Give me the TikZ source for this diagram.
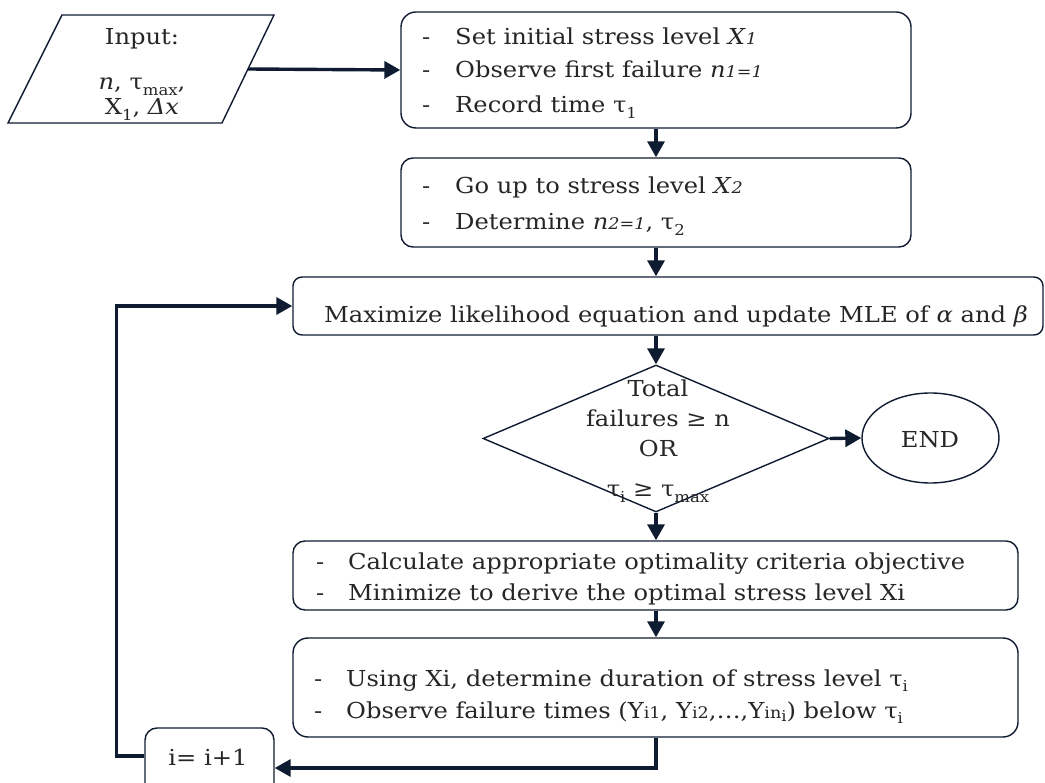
\documentclass[tikz,border=0pt]{standalone}
\usepackage{fontspec}
\setmainfont[FakeStretch=1.1]{DejaVu Serif}
\usetikzlibrary{arrows.meta,shapes.geometric}
\definecolor{ink}{HTML}{0F1B30}
\newcommand{\lsub}[1]{\raisebox{-0.45ex}{\fontsize{15}{15}\selectfont #1}}
\newcommand{\smi}[1]{{\fontsize{16}{16}\selectfont\itshape #1}}
\begin{document}
\begin{tikzpicture}[x=1pt,y=-1pt,
  font=\fontsize{22}{26}\selectfont,
  box/.style={draw=ink, line width=1.4pt, rounded corners=12pt, inner sep=0pt},
  txt/.style={inner sep=0pt, anchor=base west, text=black!85},
  ctxt/.style={inner sep=0pt, anchor=base, text=black!85},
  conn/.style={draw=ink, line width=3.4pt, -{Triangle[length=16pt,width=17pt]}},
]
\useasboundingbox (0,0) rectangle (1045,783);

% input parallelogram
\draw[draw=ink, line width=1.4pt] (62,15) coordinate (p1) -- (274,15) coordinate (p2)
  -- (222,123) coordinate (p3) -- (8,123) coordinate (p4) -- cycle;
\coordinate (inR) at (248,69);
\node[ctxt] (in1) at (142,45) {Input:};
\node[ctxt] (in2) at (142,90) {\textit{n}, τ\lsub{max},};
\node[ctxt] (in3) at (142,115) {X\lsub{1}, \textit{Δx}};

% box 1
\node[box, rounded corners=15pt, minimum width=510pt, minimum height=116pt] (b1) at (656,70) {};
\node[txt] (b1d1) at (422,45) {-};
\node[txt] (b1t1) at (455,45) {Set initial stress level \textit{X}\smi{1}};
\node[txt] (b1d2) at (422,78) {-};
\node[txt] (b1t2) at (455,78) {Observe first failure \textit{n}\smi{1=1}};
\node[txt] (b1d3) at (422,113) {-};
\node[txt] (b1t3) at (455,113) {Record time τ\lsub{1}};

% box 2
\node[box, minimum width=510pt, minimum height=89pt] (b2) at (656,202.5) {};
\node[txt] (b2d1) at (422,194) {-};
\node[txt] (b2t1) at (455,194) {Go up to stress level \textit{X}\smi{2}};
\node[txt] (b2d2) at (422,230) {-};
\node[txt] (b2t2) at (455,230) {Determine \textit{n}\smi{2=1}, τ\lsub{2}};

% box 3
\node[box, rounded corners=9pt, minimum width=750pt, minimum height=58pt] (b3) at (668,306) {};
\node[ctxt] (b3t) at (676,323) {Maximize likelihood equation and update MLE of \textit{α} and \textit{β}};

% decision
\node[draw=ink, line width=1.4pt, shape=diamond, inner sep=0pt,
  minimum width=346pt, minimum height=147pt] (dia) at (656,438.5) {};
\node[ctxt] (d1) at (658,397) {Total};
\node[ctxt] (d2) at (658,427) {failures ≥ n};
\node[ctxt] (d3) at (658,457) {OR};
\node[ctxt] (d4) at (658,497) {τ\lsub{i} ≥ τ\lsub{max}};

% end
\node[draw=ink, line width=1.4pt, shape=ellipse, inner sep=0pt,
  minimum width=137pt, minimum height=90pt] (end) at (930.5,438) {};
\node[ctxt] (endt) at (930,448) {END};

% box 4
\node[box, minimum width=725pt, minimum height=69pt] (b4) at (655.5,575.5) {};
\node[txt] (b4d1) at (316,569) {-};
\node[txt] (b4t1) at (348,569) {Calculate appropriate optimality criteria objective};
\node[txt] (b4d2) at (316,601) {-};
\node[txt] (b4t2) at (348,601) {Minimize to derive the optimal stress level Xi};

% box 5
\node[box, rounded corners=15pt, minimum width=725pt, minimum height=99pt] (b5) at (655.5,687.5) {};
\node[txt] (b5d1) at (314,686) {-};
\node[txt] (b5t1) at (346,686) {Using Xi, determine duration of stress level τ\lsub{i}};
\node[txt] (b5d2) at (314,718) {-};
\node[txt] (b5t2) at (346,718) {Observe failure times (Y\smi{\upshape i1}, Y\smi{\upshape i2},…,Y\smi{\upshape in\lsub{i}}) below τ\lsub{i}};

% i = i+1
\node[box, minimum width=129pt, minimum height=80pt] (ib) at (209.5,768) {};
\node[ctxt] (ibt) at (208,765) {i= i+1};

% connectors
\draw[conn] (inR) -- (b1.west);
\draw[conn] (b1.south) -- (b2.north);
\draw[conn] (b2.south) -- (b2.south |- b3.north);
\draw[conn] (dia.north |- b3.south) -- (dia.north);
\draw[conn] (dia.east) -- (end.west);
\draw[conn] (dia.south) -- (dia.south |- b4.north);
\draw[conn] (b4.south -| dia.south) -- (b5.north -| dia.south);
\draw[conn] (b5.south -| dia.south) |- (ib.east);
\draw[conn] ([yshift=12pt]ib.west) -- ++(-28,0) |- (b3.west);
\end{tikzpicture}
\end{document}
